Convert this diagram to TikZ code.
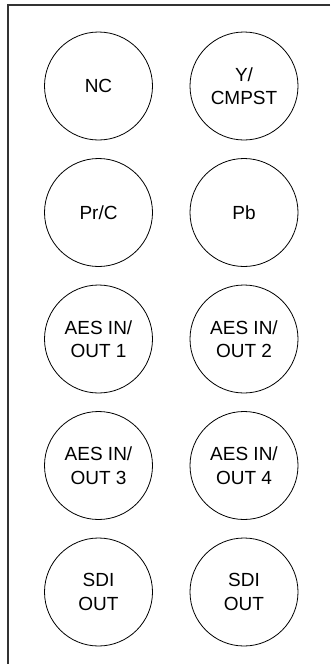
\documentclass[tikz,border=0pt]{standalone}
\usepackage{fontspec}
\setmainfont{Liberation Sans}
\tikzset{
  framestyle/.style={draw=black!80, line width=1.6pt},
  jack/.style={draw=black, circle, line width=0.8pt, minimum size=108pt, inner sep=0pt, align=center, font=\fontsize{19}{23.5}\selectfont}
}
\begin{document}
\begin{tikzpicture}[x=1pt,y=-1pt]
\useasboundingbox (0,0) rectangle (330,664);
\coordinate (ftr) at (330,5);
\coordinate (ftl) at (8,5);
\coordinate (fbl) at (8,664);
\draw[framestyle] (ftr) -- (ftl) -- (fbl);
\node[jack] (nc) at (98.5,86) {NC};
\node[jack] (y) at (244,86) {Y/\\CMPST};
\node[jack] (prc) at (98.5,212.5) {Pr/C};
\node[jack] (pb) at (244,212.5) {Pb};
\node[jack] (aes1) at (98.5,339) {AES IN/\\OUT 1};
\node[jack] (aes2) at (244,339) {AES IN/\\OUT 2};
\node[jack] (aes3) at (98.5,465.5) {AES IN/\\OUT 3};
\node[jack] (aes4) at (244,465.5) {AES IN/\\OUT 4};
\node[jack] (sdi1) at (98.5,592) {SDI\\OUT};
\node[jack] (sdi2) at (244,592) {SDI\\OUT};
\end{tikzpicture}
\end{document}
